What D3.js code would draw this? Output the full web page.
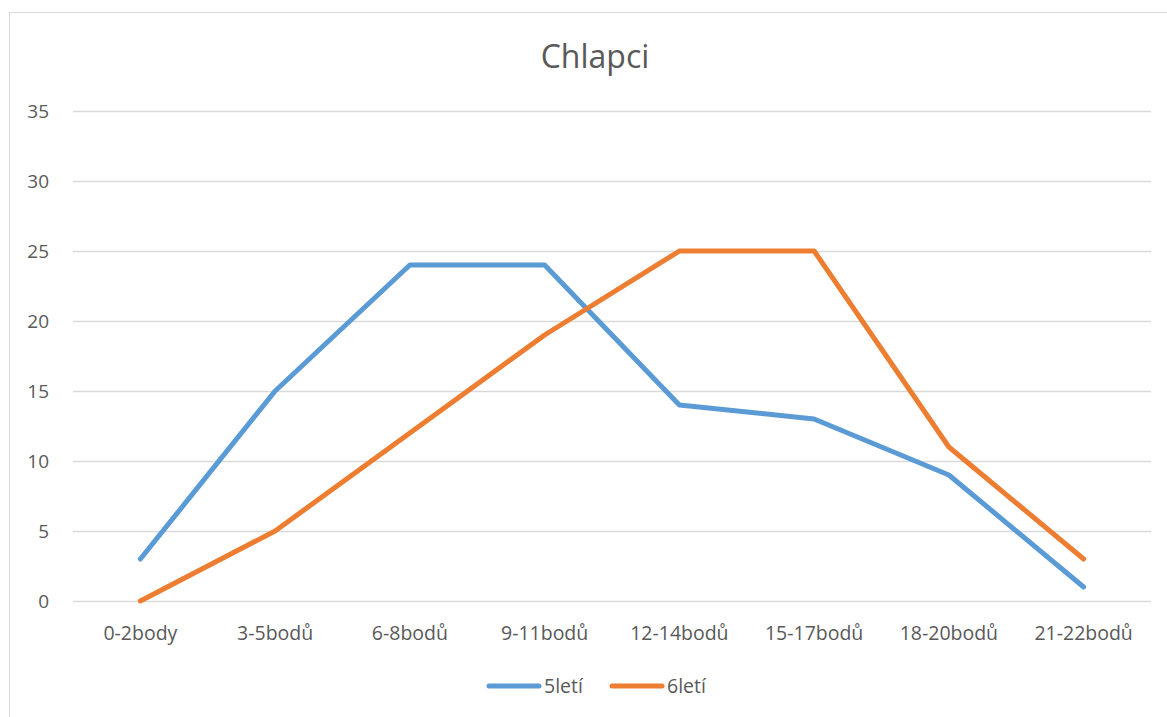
<!DOCTYPE html>
<html>
<head>
<meta charset="utf-8">
<script src="https://cdn.jsdelivr.net/npm/d3@7"></script>
<style>
  body { margin: 0; background: #fff; }
  text { font-family: "Open Sans", "Noto Sans", sans-serif; fill: #595959; }
</style>
</head>
<body>
<svg id="chart" width="1167" height="717"></svg>
<script>
var categories = ["0-2body", "3-5bodů", "6-8bodů", "9-11bodů", "12-14bodů", "15-17bodů", "18-20bodů", "21-22bodů"];
var boys5 = [3, 15, 24, 24, 14, 13, 9, 1];
var boys6 = [0, 5, 12, 19, 25, 25, 11, 3];
var yTicks = [0, 5, 10, 15, 20, 25, 30, 35];
var seriesNames = ["5letí", "6letí"];
var colors = ["#5b9bd5", "#ed7d31"];

var svg = d3.select("#chart");

// chart area frame
svg.append("rect")
    .attr("x", 9.5).attr("y", 12.5)
    .attr("width", 1170).attr("height", 720)
    .attr("fill", "none")
    .attr("stroke", "#d9d9d9")
    .attr("stroke-width", 1);

var plotL = 73, plotR = 1151, plotT = 111, plotB = 601;

var x = d3.scaleBand().domain(categories).range([plotL, plotR]);
var y = d3.scaleLinear().domain([0, 35]).range([plotB, plotT]);

// gridlines
svg.append("g")
    .selectAll("line")
    .data(yTicks)
    .join("line")
    .attr("x1", plotL).attr("x2", plotR)
    .attr("y1", function(d) { return Math.round(y(d)) + 0.5; })
    .attr("y2", function(d) { return Math.round(y(d)) + 0.5; })
    .attr("stroke", "#d9d9d9")
    .attr("stroke-width", 1.3);

// y labels
svg.append("g")
    .selectAll("text")
    .data(yTicks)
    .join("text")
    .attr("x", 49)
    .attr("y", function(d) { return y(d); })
    .attr("dy", "0.35em")
    .attr("text-anchor", "end")
    .style("font-size", "19px")
    .text(function(d) { return d; });

// x labels
svg.append("g")
    .selectAll("text")
    .data(categories)
    .join("text")
    .attr("x", function(d) { return x(d) + x.bandwidth() / 2; })
    .attr("y", 640)
    .attr("text-anchor", "middle")
    .style("font-size", "19.5px")
    .text(function(d) { return d; });

// title
svg.append("text")
    .attr("x", 595).attr("y", 68)
    .attr("text-anchor", "middle")
    .style("font-size", "32px")
    .text("Chlapci");

var line = d3.line()
    .x(function(d, i) { return x(categories[i]) + x.bandwidth() / 2; })
    .y(function(d) { return y(d); });

[boys5, boys6].forEach(function(s, k) {
    svg.append("path")
        .datum(s)
        .attr("d", line)
        .attr("fill", "none")
        .attr("stroke", colors[k])
        .attr("stroke-width", 5)
        .attr("stroke-linejoin", "round")
        .attr("stroke-linecap", "round");
});

// legend
var legendX = [489, 612];
seriesNames.forEach(function(n, k) {
    svg.append("line")
        .attr("x1", legendX[k]).attr("x2", legendX[k] + 50)
        .attr("y1", 686).attr("y2", 686)
        .attr("stroke", colors[k])
        .attr("stroke-width", 5)
        .attr("stroke-linecap", "round");
    svg.append("text")
        .attr("x", legendX[k] + 55).attr("y", 686)
        .attr("dy", "0.35em")
        .style("font-size", "19.5px")
        .text(n);
});
</script>
</body>
</html>
